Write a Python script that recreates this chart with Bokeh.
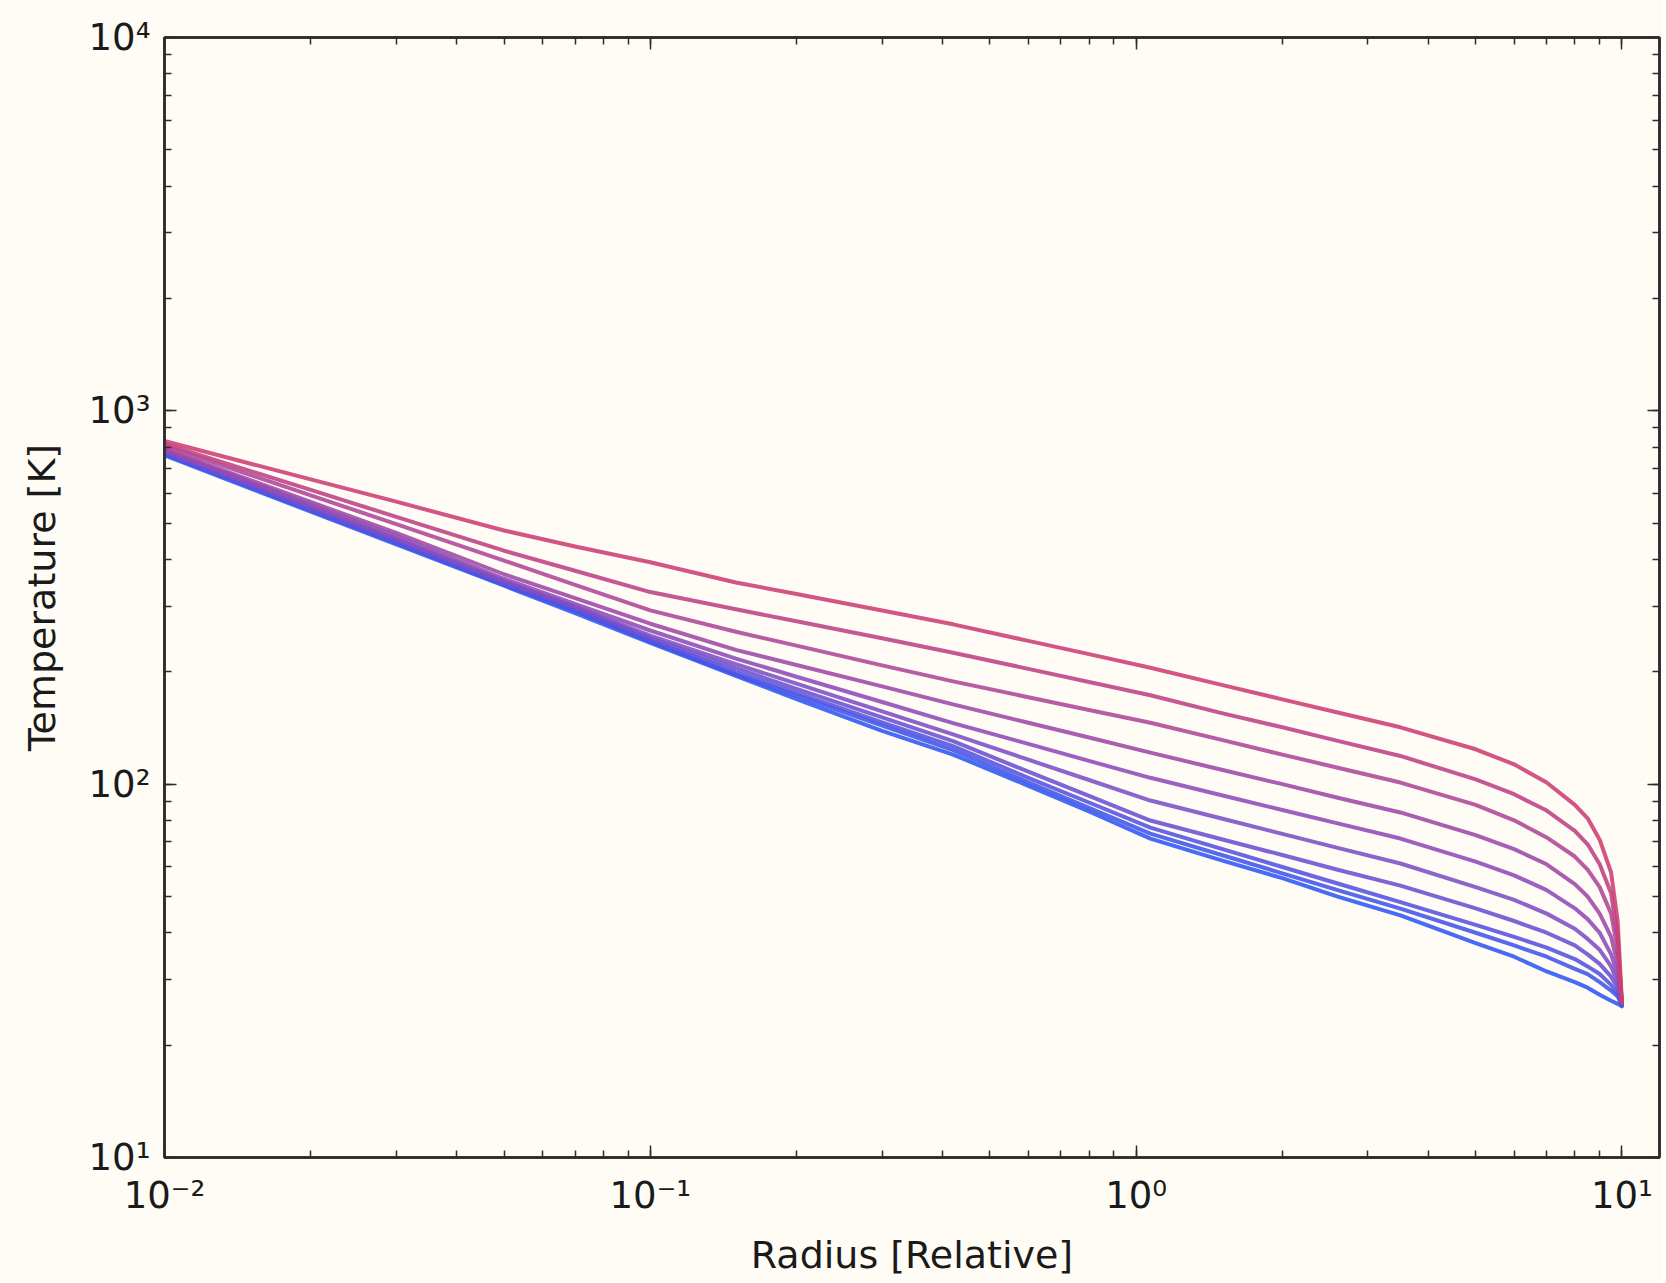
from bokeh.plotting import figure
from bokeh.models import LogAxis, LogTicker
from bokeh.embed import file_html
from bokeh.resources import INLINE

# ---------------- data ----------------
RADIUS = [0.01, 0.02, 0.03, 0.05, 0.07, 0.1, 0.15, 0.2, 0.3, 0.42, 0.6, 0.8,
          1.07, 1.5, 2.0, 2.6, 3.5, 5.0, 6.0, 7.0, 8.0, 8.5, 9.0, 9.5, 9.8, 10.0]

T1 = [830, 655, 571, 478, 433, 393, 347, 323, 292, 268, 242, 223,
      205, 184.5, 168.7, 155.6, 142, 124, 113, 101, 88, 81, 71, 58, 43, 26]
T2 = [815, 614, 520, 422, 373, 327, 294, 273, 246, 225, 203.6, 187.8,
      173, 155, 142, 130.6, 119, 103, 94, 85, 75, 69, 61, 51, 39, 26]
T3 = [805, 594, 497, 397, 342, 292, 256, 235, 208, 188.5, 171, 158,
      146, 131.4, 120, 110.7, 101, 88, 80, 72, 64, 59, 53, 45, 36, 26]
T4 = [790, 570, 471, 365, 315, 269, 229, 208.6, 182.8, 163.6, 146, 133.4,
      121.5, 109.3, 100, 92, 84, 73, 67, 61, 54, 50, 45, 39, 33, 26]
T5 = [785, 561, 462, 355, 304, 258, 217, 194, 166, 145.7, 128.2, 115.4,
      104, 93.4, 85.3, 78.5, 71.5, 62, 57, 52, 46.5, 43.5, 40, 35, 31, 26]
T6 = [780, 554, 455, 350, 299, 250, 209.7, 186, 156.6, 136, 116.3, 102.6,
      90.4, 80.9, 73.6, 67.5, 61.3, 53, 49, 45, 41, 38.5, 36, 32.5, 29.5, 26]
T7 = [775, 548, 450, 347, 297, 246, 204.6, 180, 151, 130.4, 108, 93,
      79.9, 71.2, 64.6, 59, 53.5, 46.5, 43, 40, 37, 35, 33, 30.5, 28.5, 26]
T8 = [770, 544, 445, 345, 294, 243, 199.7, 175.6, 146.4, 126.4, 104, 89.3,
      76.5, 67.1, 60, 54.2, 48.3, 42, 39, 36.5, 34, 32.5, 31, 29, 27.5, 25.8]
T9 = [765, 541, 442, 342, 291, 241, 196.6, 172.6, 143.5, 123.4, 101.2, 86.4,
      73.7, 64.6, 57.7, 52, 46.4, 40, 37, 34.5, 32, 31, 29.5, 28, 27, 25.6]
T10 = [760, 537, 439, 340, 287, 239, 195, 169, 139, 120, 99, 84.5,
       71.5, 62.5, 56, 50, 44.5, 37.5, 34.5, 31.5, 29.5, 28.5, 27.3, 26.3, 25.8, 25.4]

SERIES = [T1, T2, T3, T4, T5, T6, T7, T8, T9, T10]

X_TICKS = [0.01, 0.1, 1, 10]
X_TICK_LABELS = ["10\u207b\u00b2", "10\u207b\u00b9", "10\u2070", "10\u00b9"]
Y_TICKS = [10, 100, 1000, 10000]
Y_TICK_LABELS = ["10\u00b9", "10\u00b2", "10\u00b3", "10\u2074"]

# ---------------- styles ----------------
COLORS = ["#CC3D73", "#BD4185", "#AE4597", "#9E48A8", "#8E4BB8",
          "#7C4EC6", "#6950D3", "#5552DF", "#4154EA", "#2E56F5"]
BG = "#FFFCF5"
INK = "#2b2b2b"
FONT = "DejaVu Sans"

p = figure(width=1662, height=1282,
           x_axis_type="log", y_axis_type="log",
           x_range=(0.01, 11.95), y_range=(10, 10000),
           output_backend="svg", toolbar_location=None,
           min_border_left=164, min_border_right=3,
           min_border_top=37, min_border_bottom=125,
           background_fill_color=BG, border_fill_color=BG)

p.xgrid.visible = False
p.ygrid.visible = False
p.outline_line_color = INK
p.outline_line_width = 2.5


def style_axis(ax, labels=True):
    ax.ticker = LogTicker(num_minor_ticks=10)
    ax.axis_line_color = INK
    ax.axis_line_width = 2.5
    ax.major_tick_line_color = INK
    ax.minor_tick_line_color = INK
    ax.major_tick_line_width = 1.5
    ax.minor_tick_line_width = 1.5
    ax.major_tick_in = 12
    ax.major_tick_out = 0
    ax.minor_tick_in = 7
    ax.minor_tick_out = 0
    if labels:
        ax.major_label_text_font = FONT
        ax.major_label_text_font_size = "37px"
        ax.major_label_text_color = "#1a1a1a"
        ax.axis_label_text_font = FONT
        ax.axis_label_text_font_style = "normal"
        ax.axis_label_text_color = "#1a1a1a"
    else:
        ax.major_label_text_font_size = "2px"
        ax.major_label_text_color = None
        ax.major_label_standoff = 0


xa = p.xaxis[0]
ya = p.yaxis[0]
style_axis(xa)
style_axis(ya)
xa.major_label_overrides = {v: s for v, s in zip(X_TICKS, X_TICK_LABELS)}
ya.major_label_overrides = {v: s for v, s in zip(Y_TICKS, Y_TICK_LABELS)}
xa.axis_label = "Radius [Relative]"
ya.axis_label = "Temperature [K]"
xa.axis_label_text_font_size = "38px"
ya.axis_label_text_font_size = "38px"
xa.major_label_standoff = 16
ya.major_label_standoff = 14
xa.axis_label_standoff = 13
ya.axis_label_standoff = 22

top_ax = LogAxis()
right_ax = LogAxis()
style_axis(top_ax, labels=False)
style_axis(right_ax, labels=False)
p.add_layout(top_ax, "above")
p.add_layout(right_ax, "right")

for t, c in reversed(list(zip(SERIES, COLORS))):
    p.line(RADIUS, t, line_color=c, line_width=4, line_alpha=0.88,
           line_join="round", line_cap="round")

open("out.html", "w").write(file_html(p, INLINE))
